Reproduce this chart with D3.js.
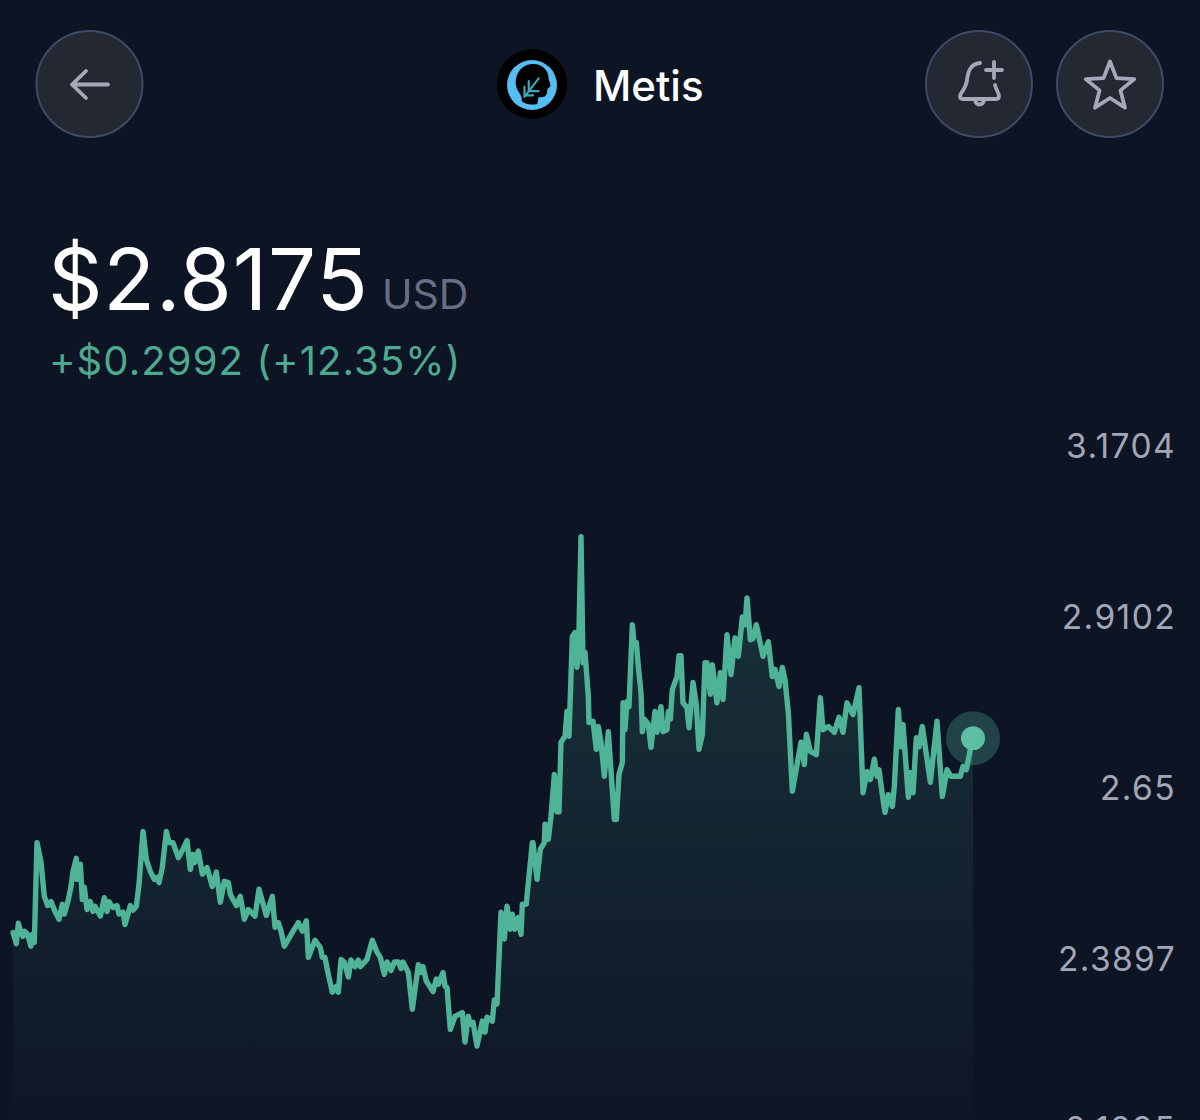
<!DOCTYPE html>
<html>
<head>
<meta charset="utf-8">
<script src="https://cdn.jsdelivr.net/npm/d3@7"></script>
<style>
  html, body { margin: 0; padding: 0; background: #0d1424; }
  svg { display: block; font-family: Inter, "Open Sans", sans-serif; }
</style>
</head>
<body>
<svg id="chart"></svg>
<script>
const coinName = 'Metis';
const priceLabel = '$2.8175';
const currency = 'USD';
const changeLabel = '+$0.2992 (+12.35%)';
const yTicks = [3.1704, 2.9102, 2.65, 2.3897, 2.1295];
const yTickLabels = ['3.1704', '2.9102', '2.65', '2.3897', '2.1295'];

// minutes since start of the 24h window
const minutes = [
  0,5,8,12,15,17,22,27,29,32,36,42,47,52,57,63,69,74,77,83,87,90,95,96,101,104,107,111,116,120,
  123,131,137,141,144,150,156,159,165,168,176,180,185,189,195,200,206,212,216,219,224,230,234,240,248,255,261,266,270,273,
  278,284,291,299,305,311,317,323,326,335,341,347,353,363,369,380,389,393,398,402,407,419,428,434,440,443,453,461,464,468,
  473,479,485,488,492,497,503,507,513,518,521,531,539,546,551,557,561,567,572,578,582,585,593,599,608,612,615,620,630,635,
  638,645,648,651,656,663,674,678,683,686,690,696,704,708,711,719,722,726,732,737,741,746,749,753,758,762,764,770,771,779,
  780,786,791,797,798,803,807,812,816,819,822,828,831,834,839,843,846,849,852,855,858,863,864,870,875,878,882,887,893,902,
  905,909,914,915,918,921,924,929,932,935,938,942,944,947,953,957,963,966,972,975,981,983,986,989,996,999,1002,1005,1011,1014,
  1020,1025,1029,1034,1038,1041,1046,1049,1056,1061,1065,1071,1077,1083,1088,1094,1098,1101,1106,1110,1115,1125,1133,1139,1143,1149,1154,1158,1163,1169,
  1182,1187,1190,1196,1205,1211,1215,1223,1232,1239,1245,1251,1260,1269,1275,1281,1286,1292,1296,1299,1305,1308,1313,1319,1322,1328,1332,1335,1343,1346,
  1350,1355,1359,1364,1376,1386,1394,1401,1407,1421,1425,1430,1436,1440
];
const prices = [
  2.429,2.412,2.443,2.429,2.423,2.431,2.426,2.408,2.426,2.414,2.566,2.536,2.484,2.470,2.476,2.461,2.449,2.472,2.457,2.479,2.499,2.522,2.542,2.510,2.533,2.479,2.498,2.464,2.476,2.461,
  2.469,2.454,2.482,2.461,2.476,2.467,2.470,2.457,2.460,2.441,2.470,2.463,2.469,2.502,2.583,2.540,2.522,2.510,2.513,2.505,2.528,2.583,2.566,2.566,2.543,2.556,2.569,2.525,2.548,2.536,
  2.553,2.518,2.528,2.499,2.521,2.475,2.507,2.505,2.487,2.470,2.484,2.449,2.464,2.454,2.495,2.455,2.484,2.437,2.444,2.431,2.408,2.429,2.444,2.431,2.447,2.391,2.417,2.406,2.391,2.391,
  2.365,2.338,2.347,2.338,2.388,2.384,2.361,2.387,2.377,2.387,2.377,2.388,2.417,2.399,2.391,2.365,2.384,2.371,2.384,2.384,2.374,2.384,2.368,2.312,2.380,2.368,2.377,2.355,2.339,2.358,
  2.350,2.368,2.347,2.345,2.281,2.301,2.307,2.262,2.301,2.289,2.292,2.256,2.294,2.277,2.300,2.294,2.326,2.320,2.460,2.419,2.469,2.434,2.457,2.434,2.452,2.426,2.472,2.472,2.484,2.566,
  2.566,2.510,2.556,2.566,2.594,2.571,2.606,2.670,2.613,2.613,2.719,2.728,2.766,2.728,2.880,2.886,2.833,2.891,3.032,2.840,2.856,2.789,2.749,2.751,2.708,2.743,2.719,2.667,2.735,2.601,
  2.601,2.670,2.688,2.779,2.738,2.781,2.773,2.898,2.865,2.871,2.834,2.795,2.735,2.754,2.746,2.711,2.766,2.734,2.773,2.735,2.738,2.766,2.754,2.799,2.819,2.851,2.851,2.779,2.772,2.741,
  2.810,2.776,2.708,2.731,2.840,2.840,2.792,2.837,2.779,2.825,2.784,2.883,2.822,2.878,2.850,2.910,2.898,2.939,2.875,2.877,2.898,2.850,2.872,2.819,2.830,2.804,2.833,2.814,2.764,2.644,
  2.719,2.685,2.731,2.705,2.700,2.787,2.738,2.743,2.734,2.757,2.734,2.779,2.761,2.802,2.642,2.674,2.662,2.693,2.667,2.677,2.632,2.612,2.639,2.621,2.652,2.769,2.712,2.746,2.635,2.673,
  2.642,2.726,2.712,2.743,2.658,2.751,2.636,2.677,2.667,2.667,2.682,2.677,2.708,2.725
];

const width = 1200, height = 1120;
const lineColor = '#4fb398';

const svg = d3.select('#chart').attr('width', width).attr('height', height);
svg.append('rect').attr('width', width).attr('height', height).attr('fill', '#0d1424');

const x = d3.scaleLinear().domain([0, 1440]).range([13, 973]);
const y = d3.scaleLinear().domain([2.1295, 3.1704]).range([1129, 446]);
const points = minutes.map((m, i) => ({ m, p: prices[i] }));

const grad = svg.append('defs').append('linearGradient')
  .attr('id', 'fade').attr('gradientUnits', 'userSpaceOnUse')
  .attr('x1', 0).attr('x2', 0).attr('y1', 540).attr('y2', 1120);
grad.append('stop').attr('offset', '0%').attr('stop-color', lineColor).attr('stop-opacity', 0.2);
grad.append('stop').attr('offset', '100%').attr('stop-color', lineColor).attr('stop-opacity', 0.015);

svg.append('path').datum(points)
  .attr('fill', 'url(#fade)')
  .attr('d', d3.area().x(d => x(d.m)).y0(height).y1(d => y(d.p)));

svg.append('path').datum(points)
  .attr('fill', 'none')
  .attr('stroke', lineColor)
  .attr('stroke-width', 5.4)
  .attr('stroke-linejoin', 'round')
  .attr('stroke-linecap', 'round')
  .attr('d', d3.line().x(d => x(d.m)).y(d => y(d.p)));

const last = points[points.length - 1];
svg.append('circle').attr('cx', x(last.m)).attr('cy', y(last.p)).attr('r', 27)
  .attr('fill', lineColor).attr('opacity', 0.3);
svg.append('circle').attr('cx', x(last.m)).attr('cy', y(last.p)).attr('r', 12)
  .attr('fill', '#5cbfa3');

// price axis
const axis = svg.append('g')
  .attr('transform', 'translate(1176,1)')
  .call(d3.axisLeft(y).tickValues(yTicks).tickSize(0).tickPadding(0)
    .tickFormat((d, i) => yTickLabels[i]));
axis.select('.domain').remove();
axis.selectAll('text')
  .attr('fill', '#a3a6b6')
  .style('font-family', 'Inter')
  .style('font-size', '33.5px')
  .style('letter-spacing', '1.4px');

// header buttons
const buttons = [89.5, 979, 1110];
svg.selectAll('.btn').data(buttons).join('circle')
  .attr('class', 'btn')
  .attr('cx', d => d).attr('cy', 84).attr('r', 53)
  .attr('fill', '#242833').attr('stroke', '#3f4a66').attr('stroke-width', 2);

const icon = svg.append('g').attr('fill', 'none').attr('stroke', '#a5a8b8')
  .attr('stroke-width', 3.8).attr('stroke-linecap', 'round').attr('stroke-linejoin', 'round');
// back arrow
icon.append('path').attr('d', 'M72 84.5H108 M86 71L72 84.5L86 98');
// bell with plus
icon.append('path').attr('d', 'M980 63C970 64 968 72 967 80C966 89 960 93 960 96C960 98 961 99 963 99H996C998 99 999 98 999 96C999 93 996 90 995 85');
icon.append('path').attr('d', 'M975 100C976 106 983 106 984 100');
icon.append('path').attr('d', 'M986 70H1002 M994 62V78');
// star
const starPts = d3.range(10).map(i => {
  const r = i % 2 ? 11 : 25.5, a = -Math.PI / 2 + i * Math.PI / 5;
  return [1110 + r * Math.cos(a), 87 + r * Math.sin(a)];
});
icon.append('path').attr('d', d3.line()(starPts) + 'Z');

// coin logo
svg.append('circle').attr('cx', 532).attr('cy', 84).attr('r', 35).attr('fill', '#000');
svg.append('circle').attr('cx', 532).attr('cy', 85).attr('r', 25).attr('fill', '#55bdf0');
const logo = svg.append('g').attr('transform', 'translate(533,84) scale(1.42) translate(-533,-84)');
logo.append('path').attr('fill', '#000')
  .attr('d', 'M521 85C520 76 526 70 533 70C540 70 544 75 544 80C544 82 546 84 545 86C544 87 543 87 543 89C543 93 540 94 537 93L536 98C531 99 527 98 525 96C526 92 522 90 521 85Z');
logo.append('path').attr('fill', 'none').attr('stroke', '#3fa9b8').attr('stroke-width', 1.5)
  .attr('stroke-linecap', 'round')
  .attr('d', 'M527 93L537 80 M530 82V89H537 M527 86V92H533');

// text
svg.append('text').attr('x', 48).attr('y', 310)
  .attr('fill', '#fff').attr('font-size', 85).attr('font-weight', 400).style('letter-spacing', '0.8px').text(priceLabel);
svg.append('text').attr('x', 593).attr('y', 101)
  .attr('fill', '#fff').attr('font-size', 42).attr('font-weight', 500).text(coinName);
svg.append('text').attr('x', 382).attr('y', 309)
  .attr('fill', '#6a6e85').attr('font-size', 41).text(currency);
svg.append('text').attr('x', 49).attr('y', 375)
  .attr('fill', '#4fa98f').attr('font-size', 40).style('letter-spacing', '1.1px').text(changeLabel);
</script>
</body>
</html>
